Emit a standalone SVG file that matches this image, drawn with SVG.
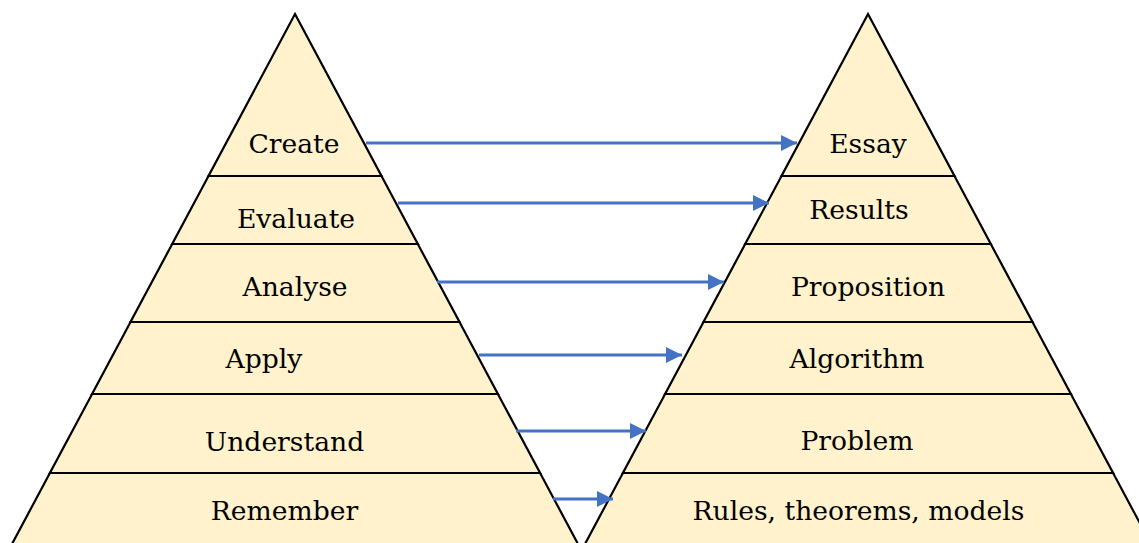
<svg xmlns="http://www.w3.org/2000/svg" width="1139" height="543" viewBox="0 0 1139 543">
<style>
.band{fill:#FFF2CC;stroke:#000;stroke-width:2.2;stroke-linejoin:miter}
.lbl{font-family:"DejaVu Serif","Liberation Serif",serif;font-size:26.6px;fill:#000;text-anchor:middle}
.arr{stroke:#4472C4;stroke-width:3;fill:none;marker-end:url(#ah)}
</style>
<defs>
<marker id="ah" markerUnits="userSpaceOnUse" markerWidth="18" markerHeight="18" refX="16" refY="8" orient="auto">
<path d="M0,0 L16,8 L0,16 z" fill="#4472C4"/>
</marker>
</defs>
<rect width="1139" height="543" fill="#fff"/>
<g id="left-pyramid">
<g id="create"><polygon class="band" points="295,14 381.5,176 208.5,176"/><text class="lbl" x="294" y="153">Create</text></g>
<g id="evaluate"><polygon class="band" points="208.5,176 381.5,176 417.8,244 172.2,244"/><text class="lbl" x="296" y="228">Evaluate</text></g>
<g id="analyse"><polygon class="band" points="172.2,244 417.8,244 459.5,322 130.5,322"/><text class="lbl" x="295" y="296">Analyse</text></g>
<g id="apply"><polygon class="band" points="130.5,322 459.5,322 497.9,394 92.1,394"/><text class="lbl" x="264" y="368">Apply</text></g>
<g id="understand"><polygon class="band" points="92.1,394 497.9,394 540.1,473 49.9,473"/><text class="lbl" x="284.5" y="451">Understand</text></g>
<g id="remember"><polygon class="band" points="49.9,473 540.1,473 582.8,553 7.2,553"/><text class="lbl" x="284.5" y="520">Remember</text></g>
</g>
<g id="right-pyramid">
<g id="essay"><polygon class="band" points="868,14 954.5,176 781.5,176"/><text class="lbl" x="868" y="153">Essay</text></g>
<g id="results"><polygon class="band" points="781.5,176 954.5,176 990.8,244 745.2,244"/><text class="lbl" x="859" y="219">Results</text></g>
<g id="proposition"><polygon class="band" points="745.2,244 990.8,244 1032.5,322 703.5,322"/><text class="lbl" x="868" y="296">Proposition</text></g>
<g id="algorithm"><polygon class="band" points="703.5,322 1032.5,322 1070.9,394 665.1,394"/><text class="lbl" x="857" y="368">Algorithm</text></g>
<g id="problem"><polygon class="band" points="665.1,394 1070.9,394 1113.1,473 622.9,473"/><text class="lbl" x="857" y="450">Problem</text></g>
<g id="rules"><polygon class="band" points="622.9,473 1113.1,473 1155.8,553 580.2,553"/><text class="lbl" x="858.5" y="520">Rules, theorems, models</text></g>
</g>
<g id="connectors">
<line class="arr" x1="366" y1="143" x2="797" y2="143"/>
<line class="arr" x1="398" y1="203" x2="769" y2="203"/>
<line class="arr" x1="437" y1="282" x2="724" y2="282"/>
<line class="arr" x1="479" y1="355" x2="682" y2="355"/>
<line class="arr" x1="516" y1="431" x2="646" y2="431"/>
<line class="arr" x1="553" y1="499" x2="613" y2="499"/>
</g>
</svg>
